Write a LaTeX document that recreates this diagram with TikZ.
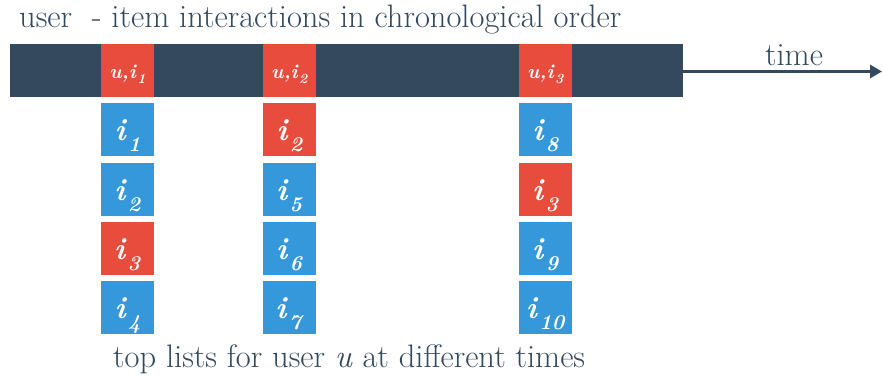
\documentclass[tikz,border=0pt]{standalone}
\usetikzlibrary{arrows.meta}
\definecolor{slate}{HTML}{34495E}
\definecolor{bblue}{HTML}{3498DB}
\definecolor{rred}{HTML}{E74C3C}
\newcommand\bigi[1]{\fontsize{31}{31}\selectfont\textbf{\textit{i}}\kern1pt\raisebox{-11pt}{\fontsize{21}{21}\selectfont\textbf{\textit{#1}}}}
\newcommand\smui[1]{\fontsize{20}{20}\selectfont\textbf{\textit{u,i}}\kern0.5pt\raisebox{-5pt}{\fontsize{14}{14}\selectfont\textbf{\textit{#1}}}}
\tikzset{
  cell/.style={minimum width=53pt,minimum height=53pt,inner sep=0pt,text=white,text height=24pt,text depth=3pt},
  bluecell/.style={cell,fill=bblue},
  redcell/.style={cell,fill=rred},
  topcell/.style={minimum width=53pt,minimum height=53pt,inner sep=0pt,fill=rred,text=white,text height=17pt,text depth=-5pt},
  caption/.style={text=slate,inner sep=0pt,font=\fontsize{32.5}{33}\selectfont,anchor=base west},
}
\begin{document}
\begin{tikzpicture}[x=1pt,y=-1pt]
\useasboundingbox (0,0) rectangle (882,377);
\node[caption] (title) at (19,28) {user\ \ - item interactions in chronological order};
\node[fill=slate,minimum width=673pt,minimum height=53pt,inner sep=0pt,anchor=north west] (bar) at (10,44) {};
\coordinate (tend) at (882,71.5);
\draw[slate,line width=3pt,-{Triangle[length=12pt,width=13pt]}] (bar.east|-tend) -- (tend);
\node[caption,anchor=base] (time) at (794,66) {time};
% top red cells
\node[topcell] (t1) at (127.5,70.5) {\smui{1}};
\node[topcell] (t2) at (289.5,70.5) {\smui{2}};
\node[topcell] (t3) at (545.5,70.5) {\smui{3}};
% column 1
\node[bluecell] (a1) at (127.5,129.5) {\bigi{1}};
\node[bluecell] (a2) at (127.5,189.5) {\bigi{2}};
\node[redcell]  (a3) at (127.5,248.5) {\bigi{3}};
\node[bluecell] (a4) at (127.5,307.5) {\bigi{4}};
% column 2
\node[redcell]  (b1) at (289.5,129.5) {\bigi{2}};
\node[bluecell] (b2) at (289.5,189.5) {\bigi{5}};
\node[bluecell] (b3) at (289.5,248.5) {\bigi{6}};
\node[bluecell] (b4) at (289.5,307.5) {\bigi{7}};
% column 3
\node[bluecell] (c1) at (545.5,129.5) {\bigi{8}};
\node[redcell]  (c2) at (545.5,189.5) {\bigi{3}};
\node[bluecell] (c3) at (545.5,248.5) {\bigi{9}};
\node[bluecell] (c4) at (545.5,307.5) {\bigi{10}};
\node[caption] (bottom) at (113,367) {top lists for user \textit{u} at different times};
\end{tikzpicture}
\end{document}
